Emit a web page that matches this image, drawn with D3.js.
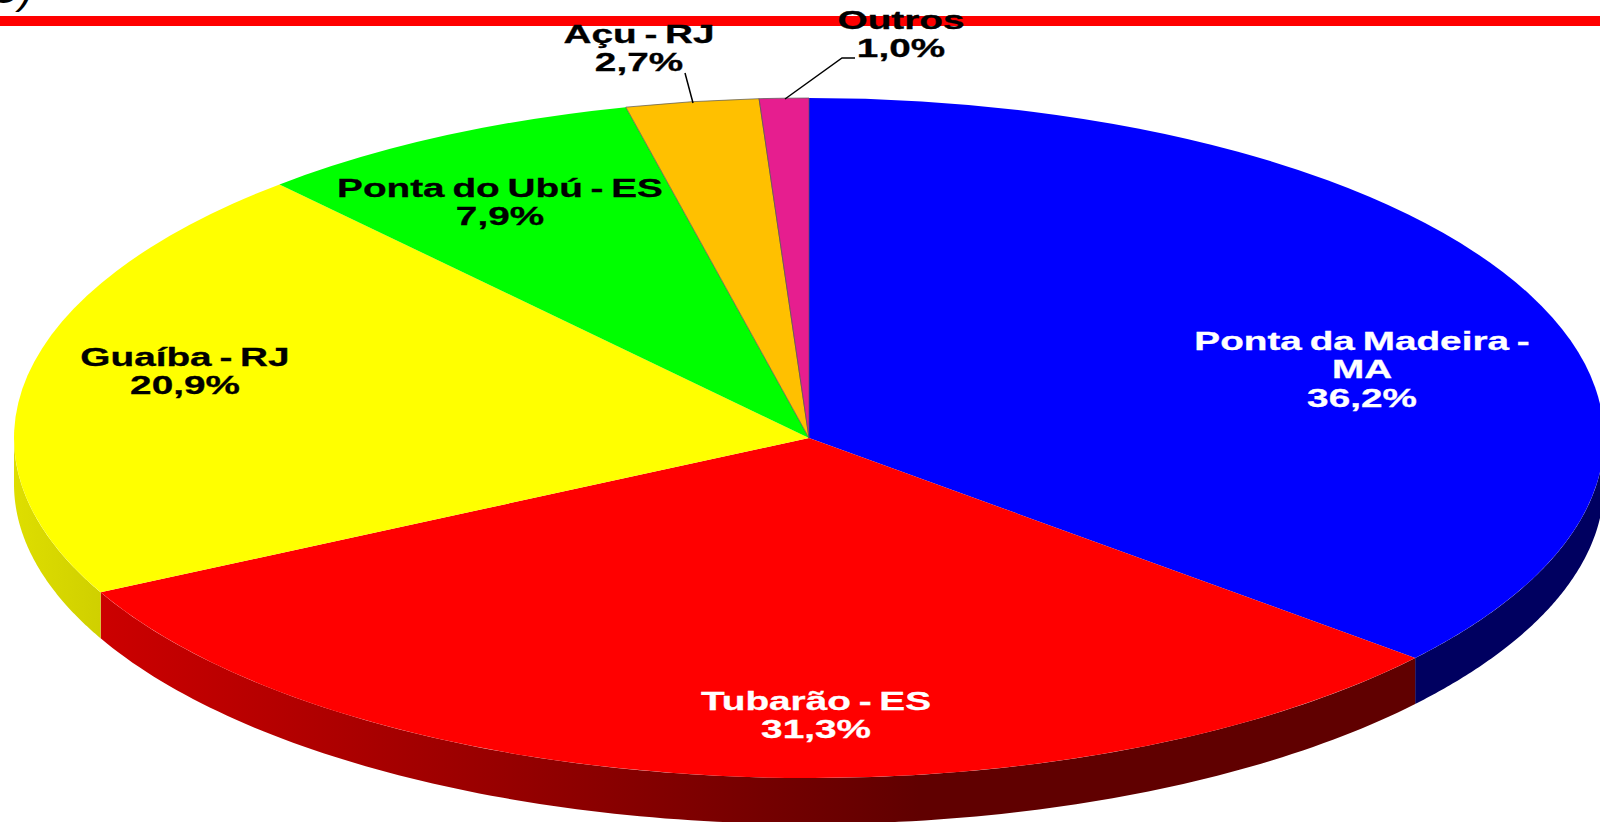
<!DOCTYPE html>
<html>
<head>
<meta charset="utf-8">
<title>Portos</title>
<script src="https://cdn.jsdelivr.net/npm/d3@7"></script>
<style>
    html, body { margin: 0; padding: 0; background: #fff; overflow: hidden; }
    svg { display: block; }
    text { font-family: "Liberation Sans", Arial, sans-serif; font-weight: bold; }
</style>
</head>
<body>
<div id="chart"></div>
<script>
// values, clockwise from 12 o'clock
var ports = ["Ponta da Madeira - MA", "Tubarão - ES", "Guaíba - RJ", "Ponta do Ubú - ES", "Açu - RJ", "Outros"];
var shares = [36.2, 31.3, 20.9, 7.9, 2.7, 1.0];
var shareLabels = ["36,2%", "31,3%", "20,9%", "7,9%", "2,7%", "1,0%"];
var labelLines = [["Ponta da Madeira -", "MA"], ["Tubarão - ES"], ["Guaíba - RJ"], ["Ponta do Ubú - ES"], ["Açu - RJ"], ["Outros"]];

// layout, kept apart from the data
var topColors = ["#0000ff", "#ff0000", "#ffff00", "#00ff00", "#ffc000", "#e61e8f"];
var textColors = ["#fff", "#fff", "#000", "#000", "#000", "#000"];
var labelX = [1362, 816, 185, 500, 639, 901];
var labelY = [350, 710, 366, 197, 43, 29];
var leaders = [null, null, null, null, [[685, 73], [693, 103]], [[855, 58], [842, 58], [785, 99]]];

var width = 1600,
    height = 822,
    cx = 809,
    cy = 438,
    rx = 795,
    ry = 340,
    depth = 46,
    lineGap = 28.5,
    fontSize = 26,
    stretch = 1.49;

var svg = d3.select("#chart").append("svg").attr("width", width).attr("height", height);

var defs = svg.append("defs");
var redSide = defs.append("linearGradient").attr("id", "redSide")
    .attr("gradientUnits", "userSpaceOnUse")
    .attr("x1", 100).attr("x2", 920).attr("y1", 0).attr("y2", 0);
redSide.append("stop").attr("offset", 0).attr("stop-color", "#cc0000");
redSide.append("stop").attr("offset", 1).attr("stop-color", "#600000");
var yellowSide = defs.append("linearGradient").attr("id", "yellowSide")
    .attr("gradientUnits", "userSpaceOnUse")
    .attr("x1", 14).attr("x2", 100).attr("y1", 0).attr("y2", 0);
yellowSide.append("stop").attr("offset", 0).attr("stop-color", "#dede00");
yellowSide.append("stop").attr("offset", 1).attr("stop-color", "#d0d000");
var sideFills = ["#000060", "url(#redSide)", "url(#yellowSide)"];

// red rule at the top, and what is left of the clipped caption above it
svg.append("text")
    .attr("x", -11).attr("y", 3)
    .attr("font-size", 42)
    .style("font-weight", "normal")
    .style("font-style", "italic")
    .text("C)");
svg.append("rect").attr("x", 0).attr("y", 16).attr("width", width).attr("height", 10).attr("fill", "#ff0000");

var pie = d3.pie().sort(null).value(function(d) { return d; });
var slices = pie(shares);

// d3.pie angle is measured clockwise from the top
function rim(a, drop) {
    return [cx + rx * Math.sin(a), cy - ry * Math.cos(a) + drop];
}

// the wall only shows on the front half of the ellipse
function wallPath(d) {
    var a0 = Math.max(d.startAngle, Math.PI / 2),
        a1 = Math.min(d.endAngle, Math.PI * 3 / 2);
    if (a1 <= a0) return null;
    var steps = d3.range(0, 121).map(function(i) { return a0 + (a1 - a0) * i / 120; });
    var pts = steps.map(function(a) { return rim(a, 0); })
        .concat(steps.slice().reverse().map(function(a) { return rim(a, depth); }));
    return d3.line()(pts) + "Z";
}

svg.append("g").selectAll("path")
    .data(slices.filter(function(d) { return wallPath(d); }))
    .enter().append("path")
    .attr("d", wallPath)
    .attr("fill", function(d) { return sideFills[d.index]; });

// top face: a plain d3 arc squashed into the ellipse
var arc = d3.arc().innerRadius(0).outerRadius(1000);
svg.append("g")
    .attr("transform", "translate(" + cx + "," + cy + ") scale(" + rx / 1000 + "," + ry / 1000 + ")")
    .selectAll("path")
    .data(slices)
    .enter().append("path")
    .attr("d", arc)
    .attr("fill", function(d) { return topColors[d.index]; })
    .attr("stroke", function(d) { return d.index >= 4 ? "#555" : "none"; })
    .attr("stroke-opacity", 0.7)
    .attr("stroke-width", 1)
    .attr("vector-effect", "non-scaling-stroke");

// leader lines for the two small slices
var leaderLine = d3.line();
svg.append("g").selectAll("path")
    .data(leaders.filter(function(d) { return d; }))
    .enter().append("path")
    .attr("d", leaderLine)
    .attr("fill", "none")
    .attr("stroke", "#000")
    .attr("stroke-width", 1.5);

// labels are stretched sideways like the original
var labels = svg.append("g").selectAll("g")
    .data(ports)
    .enter().append("g")
    .attr("transform", function(d, i) {
        return "translate(" + labelX[i] + "," + labelY[i] + ") scale(" + stretch + ",1)";
    })
    .attr("fill", function(d, i) { return textColors[i]; })
    .attr("stroke", function(d, i) { return textColors[i]; })
    .attr("stroke-width", 0.3)
    .attr("font-size", fontSize)
    .attr("text-anchor", "middle")
    .attr("word-spacing", -2);

labels.selectAll("text")
    .data(function(d, i) { return labelLines[i].concat(shareLabels[i]); })
    .enter().append("text")
    .attr("y", function(d, j) { return j * lineGap; })
    .text(function(d) { return d; });
</script>
</body>
</html>
